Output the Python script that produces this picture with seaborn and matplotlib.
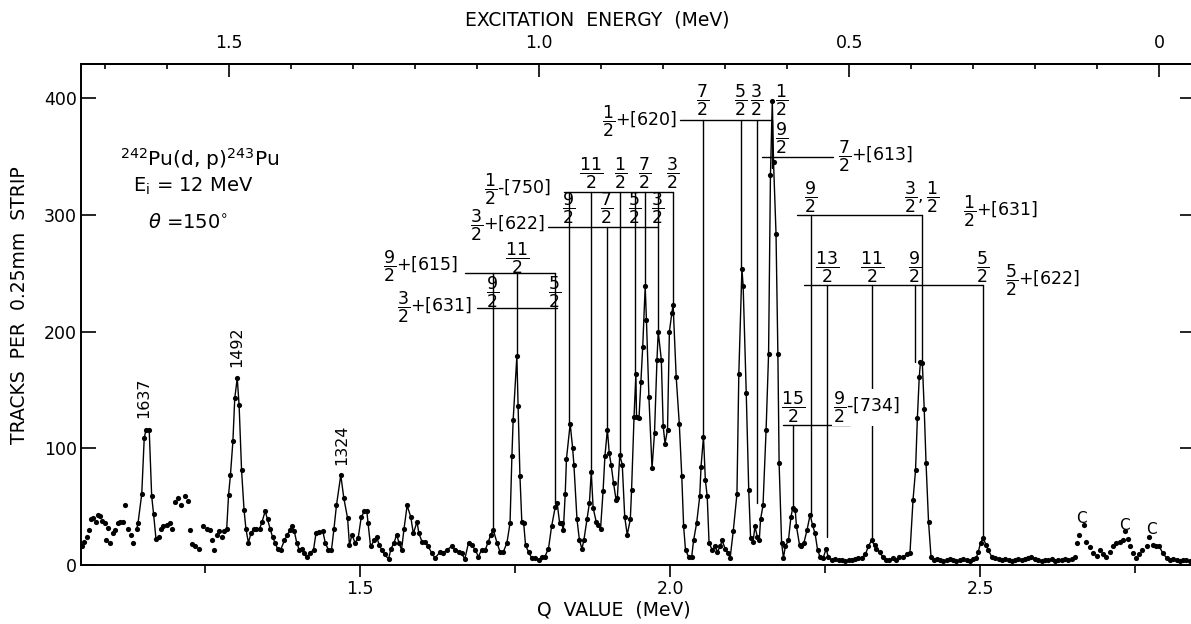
import numpy as np
import pandas as pd
import matplotlib
matplotlib.use("Agg")
import matplotlib.pyplot as plt
from matplotlib.ticker import FixedLocator
import seaborn as sns

# ---------------- data ----------------
q_value = [
    1.052, 1.055, 1.059, 1.063, 1.066, 1.070, 1.074, 1.078, 1.081, 1.084, 1.088, 1.090,
    1.094, 1.097, 1.101, 1.105, 1.109, 1.113, 1.118, 1.121, 1.125, 1.131, 1.134,
    1.140, 1.142, 1.148, 1.152, 1.155, 1.160, 1.164, 1.167, 1.171,
    1.175, 1.179, 1.183, 1.188, 1.194, 1.197, 1.202, 1.207, 1.211, 1.217, 1.222, 1.226,
    1.229, 1.234, 1.240, 1.246, 1.253, 1.258, 1.262, 1.265, 1.269, 1.273, 1.277,
    1.281, 1.285, 1.288, 1.291, 1.295, 1.298, 1.302, 1.305, 1.309, 1.313, 1.316, 1.320,
    1.324, 1.329, 1.333, 1.338, 1.342, 1.347, 1.351, 1.355, 1.359, 1.363, 1.367, 1.372,
    1.378, 1.383, 1.387, 1.390, 1.394, 1.398, 1.402, 1.407, 1.410, 1.414, 1.419, 1.425,
    1.429, 1.434, 1.440, 1.444, 1.449, 1.454, 1.458, 1.462, 1.469, 1.474, 1.480, 1.483,
    1.487, 1.492, 1.497, 1.502, 1.507, 1.511, 1.513, 1.517, 1.523, 1.527, 1.531, 1.535,
    1.540, 1.546, 1.550, 1.555, 1.559, 1.563, 1.567, 1.571, 1.576, 1.582, 1.586, 1.592,
    1.595, 1.600, 1.605, 1.610, 1.616, 1.621, 1.629, 1.634, 1.640, 1.648, 1.653, 1.659,
    1.664, 1.669, 1.675, 1.680, 1.686, 1.691, 1.696, 1.702, 1.707, 1.711, 1.715, 1.721,
    1.726, 1.731, 1.737, 1.742, 1.745, 1.747, 1.753, 1.755, 1.758, 1.761, 1.764, 1.767,
    1.772, 1.777, 1.782, 1.788, 1.793, 1.798, 1.804, 1.809, 1.815, 1.818, 1.822, 1.825,
    1.828, 1.831, 1.833, 1.839, 1.843, 1.845, 1.850, 1.854, 1.858, 1.861, 1.866, 1.870,
    1.873, 1.876, 1.881, 1.884, 1.888, 1.892, 1.895, 1.899, 1.902, 1.905, 1.909, 1.913,
    1.915, 1.919, 1.923, 1.927, 1.931, 1.936, 1.938, 1.942, 1.945, 1.946, 1.950, 1.953,
    1.956, 1.960, 1.962, 1.966, 1.971, 1.975, 1.979, 1.981, 1.986, 1.989, 1.992, 1.996,
    1.999, 2.003, 2.005, 2.010, 2.015, 2.019, 2.022, 2.025, 2.030, 2.035, 2.038, 2.043,
    2.048, 2.050, 2.054, 2.057, 2.060, 2.063, 2.068, 2.073, 2.076, 2.081, 2.084, 2.089,
    2.094, 2.097, 2.102, 2.108, 2.111, 2.116, 2.118, 2.123, 2.127, 2.130, 2.134, 2.137,
    2.141, 2.144, 2.146, 2.150, 2.155, 2.159, 2.162, 2.165, 2.167, 2.171, 2.174, 2.176,
    2.180, 2.183, 2.186, 2.191, 2.195, 2.198, 2.202, 2.204, 2.209, 2.212, 2.216, 2.221,
    2.226, 2.230, 2.234, 2.238, 2.242, 2.247, 2.252, 2.255, 2.261, 2.266, 2.272, 2.277,
    2.282, 2.288, 2.293, 2.298, 2.304, 2.309, 2.315, 2.320, 2.325, 2.330, 2.333, 2.338,
    2.343, 2.348, 2.354, 2.359, 2.365, 2.370, 2.376, 2.382, 2.387, 2.392, 2.396, 2.399,
    2.402, 2.404, 2.407, 2.410, 2.413, 2.417, 2.421, 2.425, 2.430, 2.436, 2.441, 2.446,
    2.452, 2.457, 2.462, 2.468, 2.473, 2.479, 2.484, 2.489, 2.494, 2.497, 2.501, 2.505,
    2.510, 2.513, 2.519, 2.524, 2.530, 2.535, 2.540, 2.546, 2.551, 2.557, 2.562, 2.567,
    2.573, 2.578, 2.583, 2.589, 2.594, 2.600, 2.605, 2.610, 2.616, 2.621, 2.626, 2.632,
    2.637, 2.642, 2.648, 2.653,
    2.657, 2.660, 2.667, 2.671, 2.677, 2.682, 2.688, 2.694, 2.699, 2.704, 2.710, 2.714,
    2.719, 2.725, 2.730, 2.734, 2.738, 2.742, 2.746, 2.752, 2.757, 2.762, 2.769, 2.773,
    2.779, 2.784, 2.789, 2.795, 2.801, 2.807, 2.812, 2.817, 2.823, 2.828, 2.833, 2.839,
]
tracks = [
    16, 20, 24, 30, 39, 40, 37, 43, 42, 38, 36, 21,
    32, 19, 27, 30, 36, 37, 37, 51, 31, 26, 19,
    31, 36, 61, 109, 116, 116, 59, 44, 22,
    24, 31, 33, 34, 36, 31, 54, 57, 51, 59, 55, 30,
    18, 16, 14, 33, 31, 30, 21, 13, 26, 29, 24,
    29, 31, 60, 77, 106, 143, 160, 137, 81, 47, 31, 19,
    27, 31, 31, 31, 37, 46, 39, 31, 24, 19, 14, 13,
    21, 26, 30, 33, 29, 19, 13, 14, 10, 7, 10, 13,
    27, 28, 29, 19, 13, 13, 31, 51, 77, 57, 40, 17,
    26, 19, 23, 41, 46, 46, 36, 16, 21, 24, 17, 13,
    9, 5, 14, 19, 26, 19, 13, 31, 51, 41, 27, 37,
    27, 20, 20, 16, 10, 6, 11, 10, 13, 16, 13, 11,
    10, 5, 19, 17, 13, 7, 13, 13, 20, 26, 30, 19,
    11, 11, 19, 36, 93, 124, 179, 136, 76, 37, 36, 17,
    11, 6, 6, 4, 7, 7, 14, 33, 50, 53, 36, 36,
    30, 61, 91, 121, 100, 86, 39, 21, 14, 21, 39, 53,
    80, 49, 37, 34, 31, 63, 93, 116, 96, 86, 70, 56,
    57, 94, 86, 41, 26, 39, 64, 127, 164, 127, 126, 157,
    187, 239, 210, 144, 83, 113, 176, 200, 176, 119, 104, 116,
    200, 216, 223, 161, 121, 76, 33, 13, 7, 7, 21, 36,
    59, 84, 110, 73, 59, 19, 13, 16, 11, 16, 21, 14,
    10, 6, 29, 61, 164, 254, 239, 147, 64, 23, 20, 33,
    24, 21, 39, 51, 116, 181, 334, 398, 345, 284, 181, 87,
    19, 6, 16, 21, 41, 49, 47, 33, 17, 16, 19, 30,
    43, 34, 27, 13, 7, 6, 14, 7, 4, 5, 4, 4,
    3, 4, 4, 5, 6, 6, 9, 16, 21, 17, 14, 11,
    7, 4, 4, 6, 4, 7, 7, 9, 10, 56, 81, 126,
    161, 174, 173, 134, 87, 37, 7, 4, 5, 4, 3, 4,
    5, 4, 3, 4, 5, 4, 3, 5, 6, 11, 19, 23,
    17, 13, 7, 6, 5, 4, 5, 4, 3, 4, 5, 4,
    5, 6, 7, 5, 4, 3, 4, 4, 5, 3, 4, 4,
    5, 4, 5, 7,
    19, 26, 34, 20, 15, 10, 8, 13, 9, 7, 11, 16,
    19, 20, 21, 29, 22, 16, 10, 6, 9, 13, 16, 24,
    17, 16, 16, 10, 6, 4, 5, 4, 3, 4, 4, 3,
]

# Q-value ranges where the measured points are joined by a drawn curve
curve_ranges = [(1.139, 1.172), (1.280, 2.654), (2.783, 2.840)]

# level scheme: spin labels, Q of the level, band level it hangs from, peak it reaches
level_spin = ['11/2', '1/2', '7/2', '3/2',
              '9/2', '7/2', '5/2', '3/2',
              '11/2',
              '9/2', '5/2',
              '7/2', '5/2', '3/2', '1/2',
              '9/2',
              '9/2', '3/2,1/2',
              '13/2', '11/2', '9/2', '5/2',
              '15/2']
level_q = [1.8726, 1.9194, 1.9597, 2.0048,
           1.8371, 1.8984, 1.9435, 1.9806,
           1.7532,
           1.7145, 1.8145,
           2.0532, 2.1145, 2.1403, 2.1645,
           2.1645,
           2.2274, 2.4065,
           2.2532, 2.3258, 2.3952, 2.5048,
           2.1984]
level_top = [320, 320, 320, 320,
             320, 290, 320, 320,
             250,
             250, 250,
             381, 381, 381, 381,
             350,
             300, 300,
             240, 240, 240, 240,
             120]
level_peak = [80, 94, 239, 223,
              121, 116, 164, 200,
              179,
              30, 53,
              110, 254, 53, 350,
              340,
              43, 174,
              24, 21, 174, 23,
              49]

band_K = ['1/2', '3/2', '9/2', '3/2', '1/2', '7/2', '1/2', '5/2', '9/2']
band_parity = ['-', '+', '+', '+', '+', '+', '+', '+', '-']
band_nilsson = ['[750]', '[622]', '[615]', '[631]', '[620]', '[613]', '[631]', '[622]', '[734]']
band_q_start = [1.829, 1.803, 1.669, 1.6887, 2.016, 2.148, 2.2048, 2.2161, 2.1823]
band_q_end = [2.005, 1.981, 1.8145, 1.8177, 2.1645, 2.263, 2.4065, 2.5048, 2.2903]
band_level = [320, 290, 250, 220, 381, 350, 300, 240, 120]

peak_kev = ['1637', '1492', '1324']
peak_q = [1.1516, 1.3016, 1.4710]

contaminant_q = [2.6629, 2.7323, 2.7758]

Q_GROUND = 2.789  # Q value of the ground state (excitation energy zero)

# ---------------- layout (positions of annotations) ----------------
level_label_q = list(level_q)
level_label_q[14] = 2.1806
level_label_q[15] = 2.1806
level_label_y = [336] * 4 + [306] * 4 + [263] + [234] * 2 + [398] * 4 + [366] + [315] * 2 + [255] * 4 + [135]
band_label_q = [1.808, 1.798, 1.658, 1.6806, 2.011, 2.271, 2.4726, 2.540, 2.2629]
band_label_y = [322, 291, 256, 221, 380, 350, 303, 244, 135]
band_label_ha = ['right'] * 5 + ['left'] * 4
peak_label_y = [143, 187, 103]
contaminant_y = [40, 34, 30]

# ---------------- style ----------------
sns.set_theme(style="ticks", rc={"axes.edgecolor": "black", "xtick.color": "black",
                                 "ytick.color": "black", "text.color": "black"})
plt.rcParams['font.family'] = ['DejaVu Sans']
plt.rcParams['mathtext.fontset'] = 'dejavusans'

W, H = 1191, 624
fig = plt.figure(figsize=(W / 100, H / 100), dpi=100)
fig.patch.set_facecolor('white')


def fx(px):
    return px / W


def fy(py):
    return 1 - py / H


ax = fig.add_axes([fx(81), fy(565), fx(1195) - fx(81), fy(64) - fy(565)])
ax.set_facecolor('white')

df = pd.DataFrame({'q': q_value, 'tracks': tracks})

for lo, hi in curve_ranges:
    seg = df[(df.q >= lo) & (df.q <= hi)]
    sns.lineplot(data=seg, x='q', y='tracks', sort=False, estimator=None,
                 color='black', linewidth=1.0, ax=ax)
sns.scatterplot(data=df, x='q', y='tracks', color='black', s=14, linewidth=0, ax=ax, zorder=3)

ax.set_xlim((81 + 570) / 620, (1195 + 570) / 620)
ax.set_ylim(0, 429.4)
ax.set_xlabel('')
ax.set_ylabel('')

for sp in ax.spines.values():
    sp.set_linewidth(1.4)
    sp.set_color('black')

ax.set_xticks([1.5, 2.0, 2.5])
ax.set_xticklabels(['1.5', '2.0', '2.5'])
ax.xaxis.set_minor_locator(FixedLocator([1.25, 1.75, 2.25, 2.75]))
ax.set_yticks([0, 100, 200, 300, 400])
ax.set_yticklabels(['0', '100', '200', '300', '400'])
ax.tick_params(axis='x', which='major', direction='out', length=8.6, width=1.2,
               labelsize=12.5, pad=2, top=False)
ax.tick_params(axis='x', which='minor', direction='out', length=5.8, width=1.2, top=False)
ax.tick_params(axis='y', which='major', direction='in', length=11, width=1.2,
               labelsize=12.5, pad=3, right=True, labelright=False)

sec = ax.secondary_xaxis('top', functions=(lambda q: Q_GROUND - q, lambda e: Q_GROUND - e))
sec.set_xticks([0, 0.5, 1.0, 1.5])
sec.set_xticklabels(['0', '0.5', '1.0', '1.5'])
sec.xaxis.set_minor_locator(FixedLocator([round(0.1 * i, 1) for i in range(18)]))
sec.tick_params(which='major', direction='in', length=9.4, width=1.2, pad=8.6, labelsize=12.5)
sec.tick_params(which='minor', direction='in', length=3.6, width=1.2)
sec.spines['top'].set_linewidth(1.4)

fig.text(fx(597), fy(20), 'EXCITATION  ENERGY  (MeV)', ha='center', va='center', fontsize=13.5)
fig.text(fx(614), fy(610), 'Q  VALUE  (MeV)', ha='center', va='center', fontsize=13.5)
fig.text(fx(20), fy(305), 'TRACKS  PER  0.25mm  STRIP', ha='center', va='center',
         rotation=90, fontsize=13.5)


def frac(s):
    parts = []
    for p in s.split(','):
        a, b = p.split('/')
        parts.append(r'\dfrac{%s}{%s}' % (a, b))
    return '$' + ','.join(parts) + '$'


lw = 1.0
for q, top, bot in zip(level_q, level_top, level_peak):
    ax.plot([q, q], [top, bot], color='black', lw=lw, zorder=2)
for q0, q1, y in zip(band_q_start, band_q_end, band_level):
    ax.plot([q0, q1], [y, y], color='black', lw=lw, zorder=2)
for s, q, y in zip(level_spin, level_label_q, level_label_y):
    ax.text(q, y, frac(s), ha='center', va='center', fontsize=12.5, zorder=4)
for K, par, nil, q, y, ha in zip(band_K, band_parity, band_nilsson,
                                 band_label_q, band_label_y, band_label_ha):
    t = ax.text(q, y, frac(K) + par + nil, ha=ha, va='center', fontsize=12.5, zorder=4)
    if nil == '[734]':
        t.set_bbox(dict(facecolor='white', edgecolor='none', pad=0.5))

for lab, q, y in zip(peak_kev, peak_q, peak_label_y):
    ax.text(q, y, lab, rotation=90, ha='center', va='center', fontsize=11.5)
for q, y in zip(contaminant_q, contaminant_y):
    ax.text(q, y, 'C', ha='center', va='center', fontsize=11)

ax.text(1.1129, 342, r'$^{242}$Pu(d, p)$^{243}$Pu', ha='left', va='baseline', fontsize=14.5)
ax.text(1.1339, 320, r'E$_{\mathregular{i}}$ = 12 MeV', ha='left', va='baseline', fontsize=14)
ax.text(1.1581, 289, r'$\theta$ =150$^{\circ}$', ha='left', va='baseline', fontsize=14)

fig.savefig('out.png', dpi=100, facecolor='white')
